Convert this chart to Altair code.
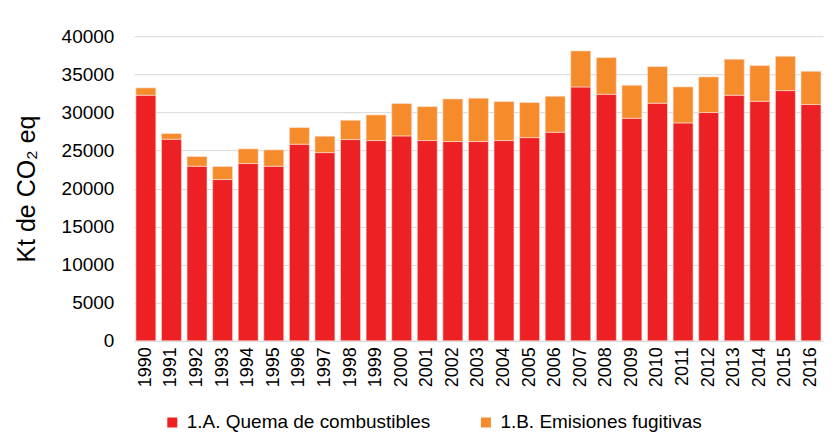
import altair as alt
import pandas as pd

years = [str(y) for y in range(1990, 2017)]
quema = [32250, 26480, 22930, 21180, 23280, 22930, 25820, 24720, 26430, 26300,
         26910, 26300, 26170, 26170, 26300, 26690, 27390, 33340, 32380, 29230,
         31200, 28620, 29980, 32250, 31460, 32860, 31030]
total = [33220, 27220, 24200, 22890, 25210, 25080, 28010, 26870, 28970, 29670,
         31160, 30760, 31770, 31860, 31420, 31290, 32120, 38070, 37200, 33560,
         36010, 33350, 34660, 36980, 36150, 37370, 35400]
fugitivas = [t - q for t, q in zip(total, quema)]

cat_a = "1.A. Quema de combustibles"
cat_b = "1.B. Emisiones fugitivas"

rows = []
for y, q, f in zip(years, quema, fugitivas):
    rows.append({"year": y, "cat": cat_a, "value": q, "ord": 0})
    rows.append({"year": y, "cat": cat_b, "value": f, "ord": 1})
df = pd.DataFrame(rows)

font = "Liberation Sans"

chart = alt.Chart(df).mark_bar(stroke="#fbe3d6", strokeWidth=0.6).encode(
    x=alt.X("year:N", title=None, sort=years,
            scale=alt.Scale(paddingInner=0.22, paddingOuter=0.08),
            axis=alt.Axis(labelAngle=-90, labelFontSize=18, labelFont=font,
                          labelColor="#000000", ticks=False, labelPadding=6,
                          domainColor="#d9d9d9", labelBaseline="middle", labelAlign="right")),
    y=alt.Y("value:Q", title="Kt de CO₂ eq",
            scale=alt.Scale(domain=[0, 40000]),
            axis=alt.Axis(values=list(range(0, 40001, 5000)), format="d", labelFontSize=19,
                          labelFont=font, labelColor="#000000", ticks=False,
                          domain=False, labelPadding=20, gridColor="#d9d9d9",
                          titleFont=font, titleFontSize=25, titleFontWeight="normal",
                          titleColor="#000000", titlePadding=22)),
    color=alt.Color("cat:N", title=None,
                    scale=alt.Scale(domain=[cat_a, cat_b], range=["#ED2024", "#F68B2C"]),
                    legend=alt.Legend(orient="none", legendX=29, legendY=377,
                                      direction="horizontal", symbolType="square",
                                      symbolSize=100, symbolStrokeWidth=0,
                                      labelFontSize=19, labelFont=font, labelOffset=5,
                                      labelColor="#000000", columnPadding=46,
                                      labelLimit=400)),
    order=alt.Order("ord:Q"),
).properties(
    width=690, height=305,
    padding={"left": 6, "top": 19, "right": 5, "bottom": 5},
).configure_view(stroke=None)

chart.save("out.html", embed_options={"renderer": "svg", "actions": False})
